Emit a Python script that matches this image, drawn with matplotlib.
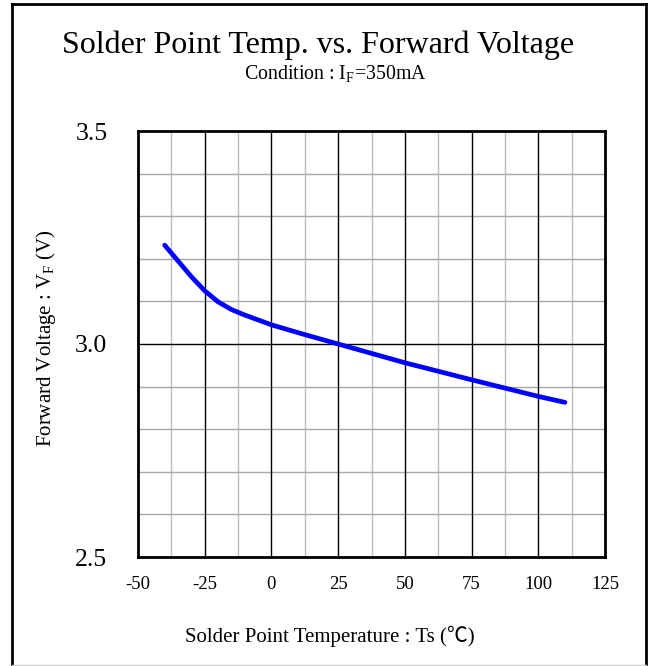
import matplotlib
matplotlib.use('Agg')
import matplotlib.pyplot as plt
from matplotlib.lines import Line2D
import numpy as np

plt.rcParams['font.family'] = ['Liberation Serif', 'DejaVu Serif']
plt.rcParams['mathtext.fontset'] = 'custom'
plt.rcParams['mathtext.rm'] = 'Liberation Serif'
plt.rcParams['mathtext.it'] = 'Liberation Serif:italic'

# values
temp = [-40, -35, -30, -25, -20, -15, -10, 0, 12.5, 25, 50, 75, 100, 110]
vf = [3.232, 3.195, 3.158, 3.125, 3.099, 3.081, 3.068, 3.045, 3.022, 3.0,
      2.956, 2.916, 2.877, 2.863]
x_ticks = [-50, -25, 0, 25, 50, 75, 100, 125]
y_ticks = [2.5, 3.0, 3.5]

fig = plt.figure(figsize=(6.51, 6.66), dpi=100)
ax = fig.add_axes([138/651, 1 - 557/666, 467/651, 426/666])

# grid
for v in np.arange(-37.5, 125, 25):
    ax.axvline(v, color='#bdbdbd', lw=1, zorder=1)
for v in x_ticks[1:-1]:
    ax.axvline(v, color='black', lw=1, zorder=1.5)
for v in np.arange(2.6, 3.45, 0.1):
    if abs(v - 3.0) > 1e-6:
        ax.axhline(v, color='#a8a8a8', lw=1, zorder=1)
ax.axhline(3.0, color='black', lw=1, zorder=1.5)

ax.plot(temp, vf, color='#0000ff', lw=3.4, solid_capstyle='round',
        solid_joinstyle='round', zorder=3)

ax.set_xlim(-50, 125)
ax.set_ylim(2.5, 3.5)
ax.set_xticks(x_ticks)
ax.set_yticks(y_ticks)
ax.set_yticklabels([f'{v:.1f}' for v in y_ticks], fontsize=18.5)
ax.set_xticklabels([str(v) for v in x_ticks], fontsize=13.5)
ax.tick_params(axis='x', length=0, pad=14)
ax.tick_params(axis='y', length=0, pad=22)
for s in ax.spines.values():
    s.set_linewidth(2)
    s.set_color('black')

fig.text(318/651, 1 - 45/666, 'Solder Point Temp. vs. Forward Voltage',
         ha='center', va='center', fontsize=23)
fig.text(335/651, 1 - 73/666, r'Condition : I$_\mathrm{F}$=350mA',
         ha='center', va='center', fontsize=14.3)
fig.text(46/651, 1 - 338/666, r'Forward Voltage : V$_\mathrm{F}$ (V)',
         ha='center', va='center', rotation=90, fontsize=15)
fig.text(330/651, 1 - 636/666, 'Solder Point Temperature : Ts (℃)',
         ha='center', va='center', fontsize=15,
         family=['Liberation Serif', 'Noto Sans CJK JP', 'DejaVu Serif'])

# outer frame
fx0, fx1 = 11.5/651, 646/651
fy_top, fy_bot = 1 - 3.5/666, 1 - 665/666
fig.add_artist(Line2D([fx0, fx0], [fy_bot, fy_top], color='black', lw=2, transform=fig.transFigure))
fig.add_artist(Line2D([fx1, fx1], [fy_bot, fy_top], color='black', lw=2, transform=fig.transFigure))
fig.add_artist(Line2D([fx0, fx1], [fy_top, fy_top], color='black', lw=2, transform=fig.transFigure))
fig.add_artist(Line2D([fx0, fx1], [fy_bot, fy_bot], color='#d0d0d0', lw=1, transform=fig.transFigure))

fig.savefig('out.png', dpi=100)
